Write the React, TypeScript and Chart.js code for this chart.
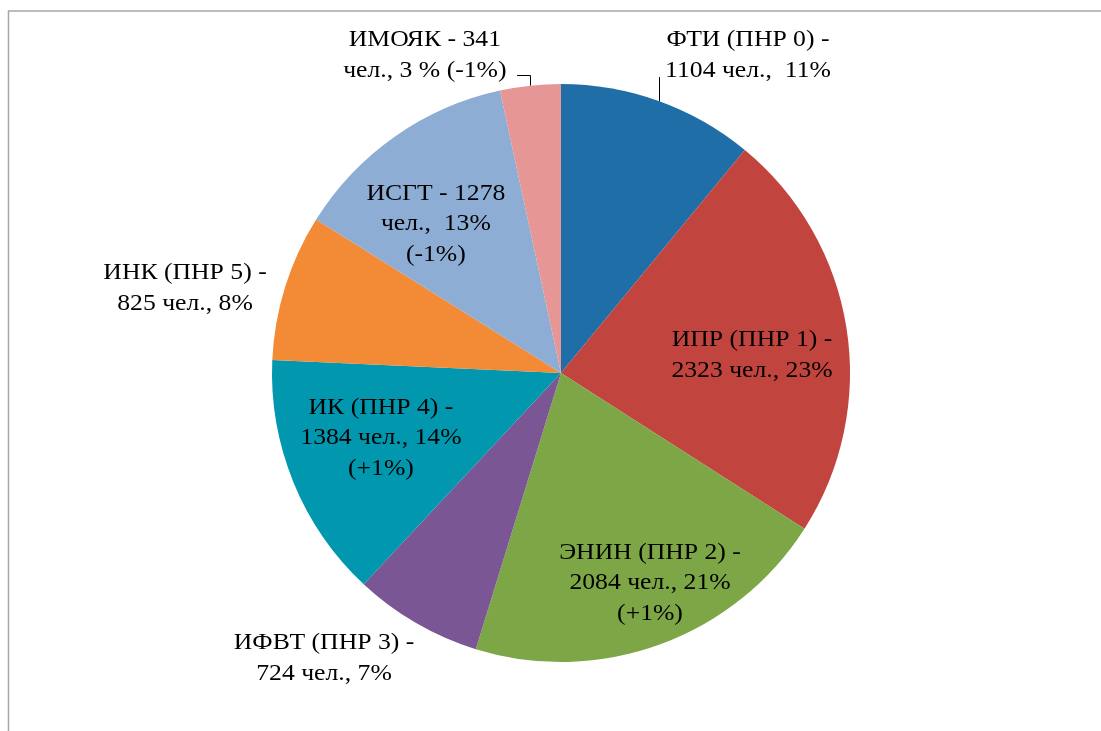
import React, { useEffect, useRef } from "react";
import { Chart, registerables } from "chart.js";

Chart.register(...registerables);

const categories = [
  "ФТИ (ПНР 0)",
  "ИПР (ПНР 1)",
  "ЭНИН (ПНР 2)",
  "ИФВТ (ПНР 3)",
  "ИК (ПНР 4)",
  "ИНК (ПНР 5)",
  "ИСГТ",
  "ИМОЯК",
];
const values = [1104, 2323, 2084, 724, 1384, 825, 1278, 341];
const colors = [
  "#1F6EA7",
  "#C2443F",
  "#7DA647",
  "#7A5694",
  "#0097AF",
  "#F38A35",
  "#8EADD5",
  "#E59695",
];
const labelLines = [
  ["ФТИ (ПНР 0) -", "1104 чел.,  11%"],
  ["ИПР (ПНР 1) -", "2323 чел., 23%"],
  ["ЭНИН (ПНР 2) -", "2084 чел., 21%", "(+1%)"],
  ["ИФВТ (ПНР 3) -", "724 чел., 7%"],
  ["ИК (ПНР 4) -", "1384 чел., 14%", "(+1%)"],
  ["ИНК (ПНР 5) -", "825 чел., 8%"],
  ["ИСГТ - 1278", "чел.,  13%", "(-1%)"],
  ["ИМОЯК - 341", "чел., 3 % (-1%)"],
];
// label centres relative to pie centre, in units of the pie radius
const labelPos = [
  [0.647, -1.1],
  [0.661, -0.062],
  [0.308, 0.727],
  [-0.82, 0.986],
  [-0.623, 0.225],
  [-1.301, -0.294],
  [-0.433, -0.516],
  [-0.471, -1.1],
];

const FONT = '24px "Liberation Serif", "DejaVu Serif", serif';
const LINE_H = 30.5;
const SX = 1.07;

const labelPlugin = {
  id: "sliceLabels",
  afterDatasetsDraw(chart: any) {
    const meta = chart.getDatasetMeta(0);
    const ctx = chart.ctx;
    const a = meta.data[0];
    const { x: cx, y: cy, outerRadius: r } = a.getProps(["x", "y", "outerRadius"], true);
    ctx.save();
    ctx.font = FONT;
    ctx.fillStyle = "#000";
    ctx.textAlign = "center";
    ctx.textBaseline = "middle";
    labelLines.forEach((lines, i) => {
      const lx = cx + labelPos[i][0] * r;
      const ly = cy + labelPos[i][1] * r;
      const n = lines.length;
      lines.forEach((t, j) => {
        const y = ly + (j - (n - 1) / 2) * LINE_H;
        ctx.save();
        ctx.translate(lx, y);
        ctx.scale(SX, 1);
        ctx.fillText(t, 0, 0);
        ctx.restore();
      });
    });
    // leader lines
    const edgeY = (x: number) => cy - Math.sqrt(r * r - (x - cx) * (x - cx));
    ctx.strokeStyle = "#000";
    ctx.lineWidth = 1;
    // ФТИ
    const x1 = Math.round(cx + 0.339 * r) + 0.5;
    ctx.beginPath();
    ctx.moveTo(x1, cy - 1.024 * r);
    ctx.lineTo(x1, edgeY(x1));
    ctx.stroke();
    // ИМОЯК
    const x2a = cx - 0.152 * r;
    const x2b = Math.round(cx - 0.107 * r) + 0.5;
    const y2 = Math.round(cy - 1.031 * r) + 0.5;
    ctx.beginPath();
    ctx.moveTo(x2a, y2);
    ctx.lineTo(x2b, y2);
    ctx.lineTo(x2b, edgeY(x2b));
    ctx.stroke();
    ctx.restore();
  },
};

const framePlugin = {
  id: "frame",
  beforeDraw(chart: any) {
    const ctx = chart.ctx;
    ctx.save();
    ctx.fillStyle = "#fff";
    ctx.fillRect(0, 0, chart.width, chart.height);
    ctx.strokeStyle = "#A6A6A6";
    ctx.lineWidth = 1.5;
    ctx.beginPath();
    ctx.moveTo(8.5, chart.height);
    ctx.lineTo(8.5, 11);
    ctx.lineTo(chart.width, 11);
    ctx.stroke();
    ctx.restore();
  },
};

export default function App() {
  const ref = useRef<HTMLCanvasElement>(null);
  useEffect(() => {
    document.body.style.margin = "0";
    const chart = new Chart(ref.current!, {
      type: "pie",
      data: {
        labels: categories,
        datasets: [
          {
            data: values,
            backgroundColor: colors,
            borderWidth: 0,
          },
        ],
      },
      options: {
        animation: false,
        responsive: false,
        layout: { padding: { top: 84, bottom: 69, left: 21, right: 0 } },
        plugins: {
          legend: { display: false },
          tooltip: { enabled: false },
        },
      },
      plugins: [framePlugin, labelPlugin],
    });
    return () => chart.destroy();
  }, []);
  return (
    <div style={{ width: 1101, height: 731 }}>
      <canvas ref={ref} width={1101} height={731} style={{ display: "block" }} />
    </div>
  );
}
